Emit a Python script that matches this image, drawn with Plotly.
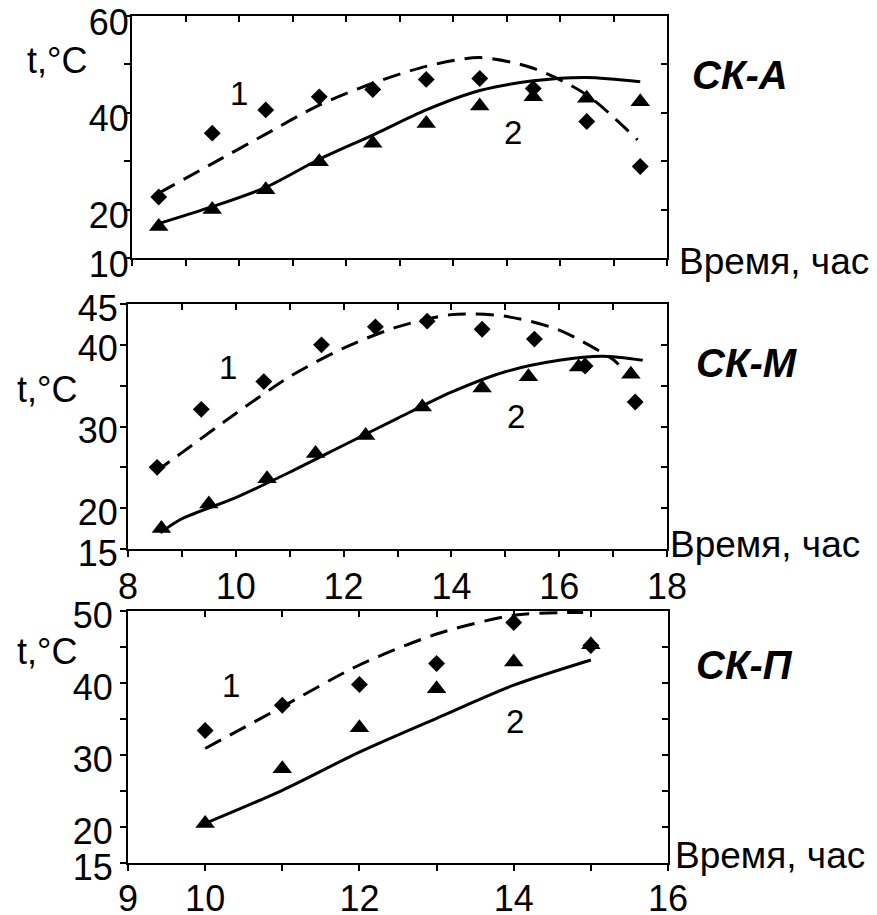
import plotly.graph_objects as go

FONT = "Arial, 'Liberation Sans', sans-serif"

# ---------------- data ----------------
# Panel СК-А
a_x_pts = [8.5, 9.5, 10.5, 11.5, 12.5, 13.5, 14.5, 15.5, 16.5, 17.5]
a_s1 = [22.6, 35.8, 40.6, 43.3, 44.8, 46.9, 47.1, 45.0, 38.2, 28.9]
a_s2 = [16.5, 20.0, 24.1, 29.9, 33.7, 37.8, 41.4, 43.3, 43.0, 42.3]
a_c1_x = [8.5, 9.5, 10.5, 11.5, 12.5, 13.5, 14.5, 15.5, 16.5, 17.45]
a_c1_y = [23.4, 29.5, 35.6, 41.6, 46.1, 49.6, 51.4, 49.2, 43.7, 34.4]
a_c2_x = [8.5, 9.5, 10.5, 11.5, 12.5, 13.5, 14.5, 15.5, 16.5, 17.5]
a_c2_y = [17.1, 20.6, 24.6, 30.4, 35.4, 40.6, 44.6, 46.6, 47.3, 46.4]

# Panel СК-М
m_x1 = [8.54, 9.36, 10.52, 11.59, 12.59, 13.55, 14.57, 15.54, 16.48, 17.41]
m_s1 = [25.0, 32.1, 35.5, 40.0, 42.2, 42.9, 41.9, 40.7, 37.4, 33.0]
m_x2 = [8.62, 9.50, 10.58, 11.48, 12.41, 13.46, 14.57, 15.43, 16.36, 17.33]
m_s2 = [17.5, 20.5, 23.6, 26.7, 28.9, 32.4, 34.7, 36.1, 37.3, 36.4]
m_c1_x = [8.5, 9, 10, 11, 12, 13, 14, 15, 16, 17, 17.1]
m_c1_y = [24.4, 26.8, 31.6, 36.1, 39.6, 42.2, 43.7, 43.5, 41.8, 38.2, 37.6]
m_c2_x = [8.6, 9, 10, 11, 12, 13, 14, 15, 16, 16.8, 17.55]
m_c2_y = [17.0, 18.7, 21.3, 24.4, 27.7, 31.0, 34.2, 36.7, 38.1, 38.6, 38.1]

# Panel СК-П
p_x = [10, 11, 12, 13, 14, 15]
p_s1 = [33.4, 36.9, 39.8, 42.7, 48.4, 45.2]
p_s2 = [20.5, 28.1, 33.8, 39.2, 42.9, 45.3]
p_c1_x = [10, 11, 12, 13, 14, 14.9]
p_c1_y = [30.9, 36.7, 42.5, 46.8, 49.4, 49.8]
p_c2_x = [10, 11, 12, 13, 14, 15]
p_c2_y = [20.5, 25.1, 30.4, 35.1, 39.7, 43.2]

panel_names = ["СК-А", "СК-М", "СК-П"]
y_label = "t,°C"
x_label = "Время, час"

a_yticks = [10, 20, 30, 40, 50, 60]
a_ytext = ["10", "20", "", "40", "", "60"]
m_yticks = [15, 20, 25, 30, 35, 40, 45]
m_ytext = ["15", "20", "", "30", "", "40", "45"]
p_yticks = [15, 20, 25, 30, 35, 40, 45, 50]
p_ytext = ["15", "20", "", "30", "", "40", "", "50"]
am_xticks = list(range(8, 19))
m_xtext = ["8", "", "10", "", "12", "", "14", "", "16", "", "18"]
p_xticks = list(range(9, 17))
p_xtext = ["9", "10", "", "12", "", "14", "", "16"]

# ---------------- geometry (page pixels) ----------------
OFF = 8                      # default body margin of the html page
W, H = 877 - OFF, 915 - OFF  # figure size so that it fills the window

boxes = [  # left, right, top, bottom (page pixels)
    (132, 667, 16, 258),
    (128, 667, 304, 549),
    (128, 668, 611, 863),
]
y_standoff = [-12, -5, 0]
y_shift = [6, 4, 4]
x_standoff = [-1, -1, -3]

def px_x(p):
    return (p - OFF) / W

def px_y(p):
    return 1 - (p - OFF) / H

fig = go.Figure()

diamond = dict(symbol="diamond", size=13, color="black")
tri = dict(symbol="triangle-up", size=17, color="black")
dashed = dict(color="black", width=3, dash="18px,10px", shape="spline", smoothing=0.8)
solid = dict(color="black", width=3, shape="spline", smoothing=0.8)

series = [
    (a_x_pts, a_s1, a_x_pts, a_s2, a_c1_x, a_c1_y, a_c2_x, a_c2_y),
    (m_x1, m_s1, m_x2, m_s2, m_c1_x, m_c1_y, m_c2_x, m_c2_y),
    (p_x, p_s1, p_x, p_s2, p_c1_x, p_c1_y, p_c2_x, p_c2_y),
]
for i, (x1, s1, x2, s2, c1x, c1y, c2x, c2y) in enumerate(series):
    xa = "x" if i == 0 else f"x{i+1}"
    ya = "y" if i == 0 else f"y{i+1}"
    xo, yo = f"x{i+4}", f"y{i+4}"
    fig.add_trace(go.Scatter(x=c1x, y=c1y, mode="lines", line=dashed, xaxis=xa, yaxis=ya, showlegend=False))
    fig.add_trace(go.Scatter(x=c2x, y=c2y, mode="lines", line=solid, xaxis=xa, yaxis=ya, showlegend=False))
    # markers on the overlaying (box) axes, same ranges
    fig.add_trace(go.Scatter(x=x1, y=s1, mode="markers", marker=diamond, xaxis=xo, yaxis=yo, showlegend=False))
    fig.add_trace(go.Scatter(x=x2, y=s2, mode="markers", marker=tri, xaxis=xo, yaxis=yo, showlegend=False))

tickfont = dict(family=FONT, size=36, color="black")
base_ax = dict(showgrid=False, zeroline=False, showline=True, linecolor="black",
               linewidth=2, ticks="outside", ticklen=6, tickwidth=1.5, tickcolor="black",
               tickfont=tickfont, fixedrange=True, automargin=False,
               ticklabeloverflow="allow")
over_ax = dict(showgrid=False, zeroline=False, showline=True, linecolor="black",
               linewidth=2, ticks="inside", ticklen=6, tickwidth=1.5, tickcolor="black",
               showticklabels=False, fixedrange=True, automargin=False)

cfg = [
    ([8, 18], am_xticks, [""] * len(am_xticks), [10, 60], a_yticks, a_ytext),
    ([8, 18], am_xticks, m_xtext, [15, 45], m_yticks, m_ytext),
    ([9, 16], p_xticks, p_xtext, [15, 50], p_yticks, p_ytext),
]
layout = {}
for i, ((l, r, t, b), (xr, xt, xtt, yr, yt, ytt)) in enumerate(zip(boxes, cfg)):
    n = "" if i == 0 else str(i + 1)
    on = str(i + 4)
    layout[f"xaxis{n}"] = dict(base_ax, domain=[px_x(l), px_x(r)], anchor=f"y{n}", range=xr,
                               tickmode="array", tickvals=xt, ticktext=xtt,
                               showticklabels=(i != 0), ticklabelstandoff=x_standoff[i])
    layout[f"yaxis{n}"] = dict(base_ax, domain=[px_y(b), px_y(t)], anchor=f"x{n}", range=yr,
                               tickmode="array", tickvals=yt, ticktext=ytt,
                               ticklabelstandoff=y_standoff[i], ticklabelshift=y_shift[i])
    layout[f"xaxis{on}"] = dict(over_ax, overlaying=f"x{n}", side="top", anchor=f"y{n}",
                                range=xr, tickmode="array", tickvals=xt)
    layout[f"yaxis{on}"] = dict(over_ax, overlaying=f"y{n}", side="right", anchor=f"x{n}",
                                range=yr, tickmode="array", tickvals=yt)

fig.update_layout(**layout)

ann = []
# y-axis labels
for (px, py) in [(25, 60), (15, 389), (15, 651)]:
    ann.append(dict(x=px_x(px), y=px_y(py), xref="paper", yref="paper", text=y_label,
                    showarrow=False, xanchor="left", yanchor="middle",
                    font=dict(family=FONT, size=36, color="black")))
# x-axis labels
for (px, py) in [(677, 261), (668, 544), (673, 855)]:
    ann.append(dict(x=px_x(px), y=px_y(py), xref="paper", yref="paper", text=x_label,
                    showarrow=False, xanchor="left", yanchor="middle",
                    font=dict(family=FONT, size=37, color="black")))
# panel names
for name, (px, py) in zip(panel_names, [(690, 75), (694, 363), (694, 665)]):
    ann.append(dict(x=px_x(px), y=px_y(py), xref="paper", yref="paper",
                    text=f"<b><i>{name}</i></b>", showarrow=False, xanchor="left",
                    yanchor="middle", font=dict(family=FONT, size=40, color="black")))
# curve numbers
num_pos = [("x", "y", 10.0, 44.0, 15.12, 36.0),
           ("x2", "y2", 9.86, 37.2, 15.19, 31.2),
           ("x3", "y3", 10.33, 39.7, 14.02, 34.6)]
for xa, ya, x1p, y1p, x2p, y2p in num_pos:
    for txt, xx, yy in [("1", x1p, y1p), ("2", x2p, y2p)]:
        ann.append(dict(x=xx, y=yy, xref=xa, yref=ya, text=txt, showarrow=False,
                        font=dict(family=FONT, size=33, color="black")))

fig.update_layout(
    annotations=ann,
    width=W, height=H, autosize=False,
    margin=dict(l=0, r=0, t=0, b=0),
    paper_bgcolor="white", plot_bgcolor="white",
    template="none", showlegend=False,
    font=dict(family=FONT, color="black"),
)

fig.write_html("out.html", config={"displayModeBar": False})
